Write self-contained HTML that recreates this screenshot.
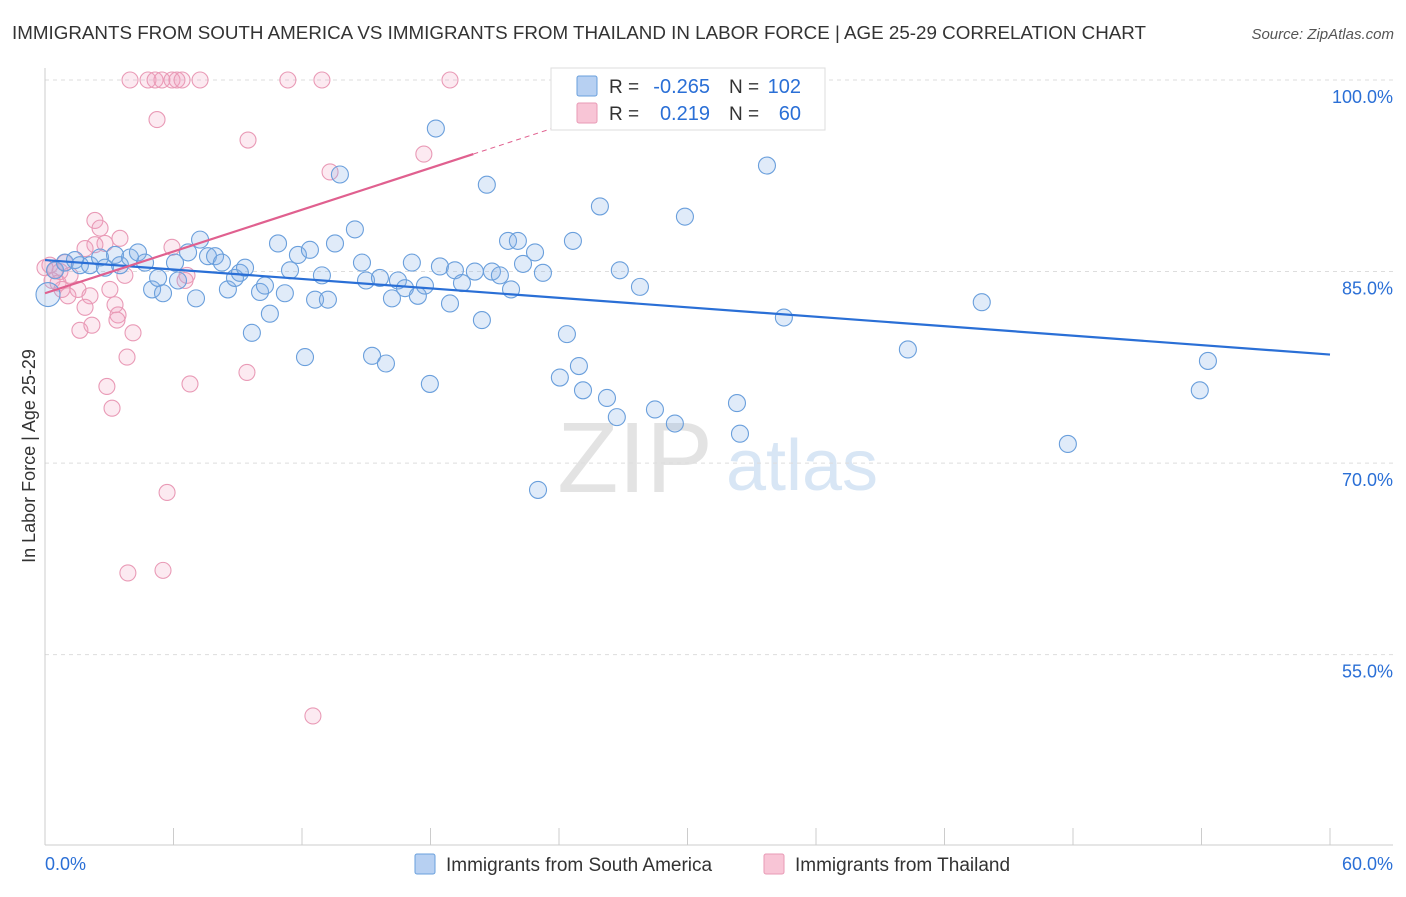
<!DOCTYPE html>
<html><head><meta charset="utf-8">
<style>
body{margin:0;background:#fff;font-family:"Liberation Sans",sans-serif;}
svg text{font-family:"Liberation Sans",sans-serif;}
</style></head>
<body>
<svg id="chart" width="1406" height="892" viewBox="0 0 1406 892" xmlns="http://www.w3.org/2000/svg">
<text x="12" y="39" font-size="18.8" fill="#333">IMMIGRANTS FROM SOUTH AMERICA VS IMMIGRANTS FROM THAILAND IN LABOR FORCE | AGE 25-29 CORRELATION CHART</text>
<text x="1394" y="39" font-size="15" fill="#555" font-style="italic" text-anchor="end">Source: ZipAtlas.com</text>
<text x="635" y="492" font-size="100" fill="#e3e3e3" font-family="Liberation Serif" text-anchor="middle">ZIP</text>
<text x="802" y="490" font-size="72" fill="#d8e6f5" text-anchor="middle">atlas</text>
<g id="grid"></g>
<g id="axes"></g>
<g id="points"></g>
<g id="lines"></g>
<text x="35" y="456" font-size="18" fill="#333" text-anchor="middle" transform="rotate(-90 35 456)">In Labor Force | Age 25-29</text>
<g>
<rect x="551" y="68" width="274" height="62" fill="#fff" stroke="#ddd"/>
<rect x="577" y="76" width="20" height="20" fill="#b7d0f2" stroke="#6a9fdc" rx="2"/>
<rect x="577" y="103" width="20" height="20" fill="#f8c5d6" stroke="#e89ab5" rx="2"/>
<text x="609" y="93" font-size="19" fill="#333">R =</text>
<text x="710" y="93" font-size="20" fill="#2a6fd6" text-anchor="end">-0.265</text>
<text x="729" y="93" font-size="19" fill="#333">N =</text>
<text x="801" y="93" font-size="20" fill="#2a6fd6" text-anchor="end">102</text>
<text x="609" y="120" font-size="19" fill="#333">R =</text>
<text x="710" y="120" font-size="20" fill="#2a6fd6" text-anchor="end">0.219</text>
<text x="729" y="120" font-size="19" fill="#333">N =</text>
<text x="801" y="120" font-size="20" fill="#2a6fd6" text-anchor="end">60</text>
</g>
<g>
<rect x="415" y="854" width="20" height="20" fill="#b7d0f2" stroke="#6a9fdc" rx="2"/>
<text x="446" y="871" font-size="19" fill="#333">Immigrants from South America</text>
<rect x="764" y="854" width="20" height="20" fill="#f8c5d6" stroke="#e89ab5" rx="2"/>
<text x="795" y="871" font-size="19" fill="#333">Immigrants from Thailand</text>
</g>
</svg>
<script>
const blueX=[0.14,0.47,0.93,1.40,1.63,2.10,2.57,2.80,3.27,3.50,3.97,4.34,4.67,5.00,5.28,5.51,6.07,6.21,6.68,7.05,7.24,7.61,7.94,8.26,8.54,8.87,9.10,9.34,9.66,10.04,10.27,10.50,10.88,11.20,11.44,11.81,12.14,12.37,12.61,12.93,13.21,13.54,13.77,14.47,14.80,14.99,15.27,15.64,15.92,16.20,16.48,16.81,17.13,17.41,17.74,17.97,18.25,18.44,18.91,19.14,19.47,20.07,20.40,20.63,20.87,21.24,21.62,21.76,22.08,22.32,22.88,23.02,23.25,24.04,24.37,24.65,24.93,25.12,25.91,26.24,26.70,26.84,27.40,27.17,27.78,28.48,29.41,29.88,31.84,32.31,32.45,33.71,34.50,40.29,43.74,47.76,53.92,54.30];
const blueY=[83.2,85.1,85.7,85.9,85.5,85.5,86.1,85.3,86.3,85.5,86.1,86.5,85.7,83.6,84.5,83.3,85.7,84.3,86.5,82.9,87.5,86.2,86.2,85.7,83.6,84.5,84.9,85.3,80.2,83.4,83.9,81.7,87.2,83.3,85.1,86.3,78.3,86.7,82.8,84.7,82.8,87.2,92.6,88.3,85.7,84.3,78.4,84.5,77.8,82.9,84.3,83.7,85.7,83.1,83.9,76.2,96.2,85.4,82.5,85.1,84.1,85.0,81.2,91.8,85.0,84.7,87.4,83.6,87.4,85.6,86.5,67.9,84.9,76.7,80.1,87.4,77.6,75.7,90.1,75.1,73.6,85.1,98.7,100,83.8,74.2,73.1,89.3,100,74.7,72.3,93.3,81.4,78.9,82.6,71.5,75.7,78.0];
const pinkX=[3.97,4.81,5.14,5.46,5.93,6.16,6.40,7.24,11.34,12.93,18.91,5.23,9.48,13.31,17.69,2.33,2.57,2.80,2.33,1.87,3.50,5.93,0.23,0.47,0.70,1.17,1.54,1.07,2.10,1.87,1.63,2.19,3.03,3.27,3.41,3.36,3.73,4.11,3.83,2.89,3.13,6.63,6.54,6.77,9.43,5.70,3.87,5.51,12.51,0.93,0,0.33,0.61,0.79];
const pinkY=[100,100,100,100,100,100,100,100,100,100,100,96.9,95.3,92.8,94.2,89.0,88.4,87.2,87.1,86.8,87.6,86.9,85.5,85.1,85.0,84.7,83.6,83.1,83.1,82.2,80.4,80.8,83.6,82.4,81.6,81.2,84.7,80.2,78.3,76.0,74.3,84.7,84.3,76.2,77.1,67.7,61.4,61.6,50.2,85.7,85.3,84.3,84.1,83.6];
const blueTrend=[85.9,78.5];   // y at x=0 and x=60
const pinkTrend=[83.3,94.2];   // y at x=0 and x=20
const yTicks=[100,85,70,55];
const xTickLabels=["0.0%","60.0%"];
const NS="http://www.w3.org/2000/svg";
const sx=v=>45+v*(1285/60);
const sy=v=>80+(100-v)*12.77;
function mk(tag,attrs,parent){const e=document.createElementNS(NS,tag);for(const k in attrs)e.setAttribute(k,attrs[k]);parent.appendChild(e);return e;}
const grid=document.getElementById('grid'),axes=document.getElementById('axes'),pts=document.getElementById('points'),lines=document.getElementById('lines');
yTicks.forEach(t=>{
  const l=mk('line',{x1:45,x2:1393,y1:sy(t),y2:sy(t),stroke:'#ddd','stroke-dasharray':'4,4'},grid);
  
  
  const tx=mk('text',{x:1393,y:sy(t)+23,'font-size':18,fill:'#2a6fd6','text-anchor':'end'},axes);
  tx.textContent=t.toFixed(1)+'%';
  
  
});
mk('line',{x1:45,x2:45,y1:68,y2:845,stroke:'#ccc'},axes);
mk('line',{x1:45,x2:1393,y1:845,y2:845,stroke:'#ccc'},axes);
for(let i=0;i<=10;i++){const x=sx(i*6);const t=mk('line',{x1:x,x2:x,y1:828,y2:845,stroke:'#ccc'},axes);}
const xl0=mk('text',{x:45,y:870,'font-size':18,fill:'#2a6fd6'},axes);xl0.textContent=xTickLabels[0];


const xl1=mk('text',{x:1393,y:870,'font-size':18,fill:'#2a6fd6','text-anchor':'end'},axes);xl1.textContent=xTickLabels[1];


pinkX.forEach((v,i)=>{const c=mk('circle',{cx:sx(v),cy:sy(pinkY[i]),r:8,fill:'rgba(242,160,190,0.22)',stroke:'#e99ab6','stroke-width':1.1},pts);

});
blueX.forEach((v,i)=>{const c=mk('circle',{cx:sx(v),cy:sy(blueY[i]),r:i===0?12:8.5,fill:'rgba(130,175,230,0.25)',stroke:'#6a9fdc','stroke-width':1.1},pts);

});
const bl=mk('line',{x1:sx(0),y1:sy(blueTrend[0]),x2:sx(60),y2:sy(blueTrend[1]),stroke:'#2a6fd6','stroke-width':2.2},lines);


const pk=(x)=>pinkTrend[0]+(pinkTrend[1]-pinkTrend[0])*x/20;
const pl=mk('line',{x1:sx(0),y1:sy(pk(0)),x2:sx(20),y2:sy(pk(20)),stroke:'#e0608f','stroke-width':2.2},lines);


const pd=mk('line',{x1:sx(20),y1:sy(pk(20)),x2:sx(24),y2:sy(pk(24)),stroke:'#e0608f','stroke-width':1,'stroke-dasharray':'5,4'},lines);


</script>
</body></html>
